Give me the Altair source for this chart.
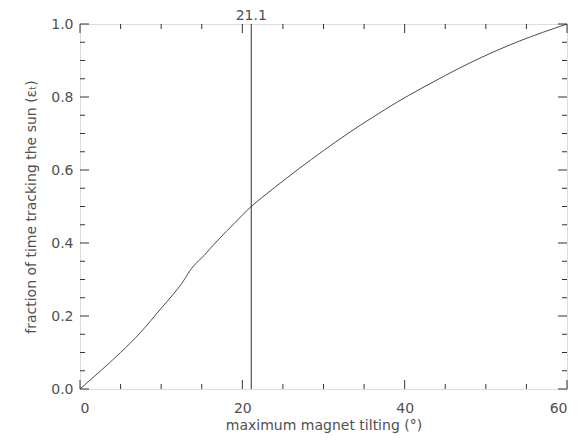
import altair as alt
import pandas as pd

# curve values
tilt = [0, 2.5, 5, 7.5, 10, 11.5, 12.5, 13.0, 13.5, 14.0, 14.6, 15.3, 16, 17, 18, 19, 20, 21.1,
        22.5, 24, 27, 30, 33, 36, 39, 42, 45, 48, 51, 54, 57, 60]
frac = [0.0, 0.049, 0.1, 0.156, 0.221, 0.26, 0.288, 0.305, 0.323, 0.337, 0.351, 0.366, 0.384,
        0.408, 0.431, 0.4535, 0.4765, 0.5,
        0.526, 0.5525, 0.604, 0.653, 0.700, 0.7435, 0.785, 0.823, 0.859, 0.893, 0.924,
        0.952, 0.977, 1.0]

marker_x = 21.1
marker_label = "21.1"

x_major = [0, 20, 40, 60]
x_minor = [5, 10, 15, 25, 30, 35, 45, 50, 55]
y_major = [0.0, 0.2, 0.4, 0.6, 0.8, 1.0]
y_minor = [0.05, 0.1, 0.15, 0.25, 0.3, 0.35, 0.45, 0.5, 0.55, 0.65, 0.7, 0.75, 0.85, 0.9, 0.95]

W, H = 487, 365
FONT = "DejaVu Sans"
INK = "#333333"
TXT = "#505050"

df = pd.DataFrame({"x": tilt, "y": frac})
xs = alt.Scale(domain=[0, 60], nice=False)
ys = alt.Scale(domain=[0, 1], nice=False)

curve = alt.Chart(df).mark_line(color="#4a4a4a", strokeWidth=1, interpolate="monotone").encode(
    x=alt.X("x:Q", scale=xs,
            axis=alt.Axis(values=x_major, ticks=False, domain=False, grid=False,
                          labelPadding=12, labelFontSize=14, labelFont=FONT,
                          labelColor=TXT, title="maximum magnet tilting (°)",
                          titleFont=FONT, titleFontSize=14, titleFontWeight="normal",
                          titleColor=TXT, titlePadding=3)),
    y=alt.Y("y:Q", scale=ys,
            axis=alt.Axis(values=y_major, format=".1f", ticks=False, domain=False,
                          grid=False, labelPadding=7, labelFontSize=14, labelFont=FONT,
                          labelColor=TXT, title="fraction of time tracking the sun (εₜ)",
                          titleFont=FONT, titleFontSize=14, titleFontWeight="normal",
                          titleColor=TXT, titlePadding=12)),
)

vline = alt.Chart(pd.DataFrame({"x": [marker_x]})).mark_rule(color=INK, strokeWidth=1).encode(
    x=alt.X("x:Q", scale=xs)
)
vlabel = alt.Chart(pd.DataFrame({"x": [marker_x], "t": [marker_label]})).mark_text(
    font=FONT, fontSize=14, color=TXT, baseline="alphabetic", align="center"
).encode(x=alt.X("x:Q", scale=xs), y=alt.value(-4), text="t:N")


def xticks(vals, y0, y1):
    return alt.Chart(pd.DataFrame({"x": vals})).mark_rule(color=INK, strokeWidth=1).encode(
        x=alt.X("x:Q", scale=xs), y=alt.value(y0), y2=alt.value(y1))


def yticks(vals, x0, x1):
    return alt.Chart(pd.DataFrame({"y": vals})).mark_rule(color=INK, strokeWidth=1).encode(
        y=alt.Y("y:Q", scale=ys), x=alt.value(x0), x2=alt.value(x1))


ticks = [
    xticks(x_major, H, H - 9), xticks(x_minor, H, H - 5),
    xticks(x_major, 0, 9), xticks(x_minor, 0, 5),
    yticks(y_major, 0, 9), yticks(y_minor, 0, 5),
    yticks(y_major, W, W - 9), yticks(y_minor, W, W - 5),
]

chart = alt.layer(curve, vline, vlabel, *ticks).properties(
    width=W, height=H,
    autosize=alt.AutoSizeParams(type="none"),
    padding={"left": 72, "top": 16, "right": 11, "bottom": 47},
).configure_view(stroke=INK, strokeWidth=1).configure(background="white")

chart.save("out.html", embed_options={"renderer": "svg", "actions": False})
